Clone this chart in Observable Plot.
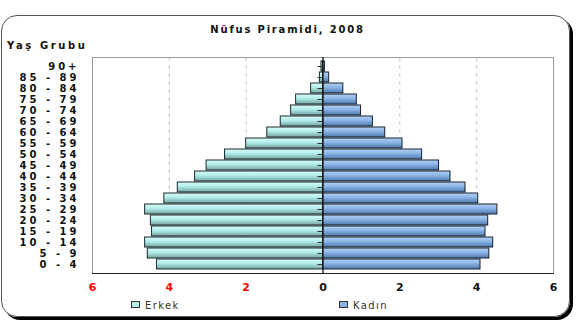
<!DOCTYPE html>
<html>
<head>
<meta charset="utf-8">
<script src="https://cdn.jsdelivr.net/npm/d3@7"></script>
<script src="https://cdn.jsdelivr.net/npm/@observablehq/plot@0.6"></script>
<style>
  html, body { margin: 0; padding: 0; background: #fff; }
  #wrap { position: relative; width: 579px; height: 324px; overflow: hidden; font-family: "DejaVu Sans", sans-serif; }
  #box { position: absolute; left: 1px; top: 15px; width: 567px; height: 300px; border: 1px solid #555; border-radius: 16px; box-shadow: 3px 3px 0 #000; }
  #chart { position: absolute; left: 0; top: 0; }
  #title { position: absolute; left: 0; width: 575px; top: 24px; text-align: center; font-weight: bold; font-size: 10px; letter-spacing: 1.8px; color: #111; }
  #ylab { position: absolute; left: 7px; top: 40px; font-weight: bold; font-size: 10px; letter-spacing: 2.6px; color: #111; }
  .leg { position: absolute; top: 300px; font-size: 10px; letter-spacing: 1.4px; color: #333; }
  .sw { display: inline-block; width: 7px; height: 5px; border: 1px solid #333; margin-right: 5px; vertical-align: 1px; }
  g[aria-label="y-axis tick label"] text { letter-spacing: 3px; }
  g[aria-label="x-axis tick label"] text { letter-spacing: 0px; }
</style>
</head>
<body>
<div id="wrap">
  <div id="box"></div>
  <div id="chart"></div>
  <div id="title">Nüfus Piramidi, 2008</div>
  <div id="ylab">Yaş Grubu</div>
  <div class="leg" style="left:131px"><span class="sw" style="background:#b4ecea"></span>Erkek</div>
  <div class="leg" style="left:339px"><span class="sw" style="background:#8ab3e6"></span>Kadın</div>
</div>
<script>
const ageGroups = ["0 - 4","5 - 9","10 - 14","15 - 19","20 - 24","25 - 29","30 - 34","35 - 39","40 - 44","45 - 49","50 - 54","55 - 59","60 - 64","65 - 69","70 - 74","75 - 79","80 - 84","85 - 89","90+"];
const male   = [4.32, 4.56, 4.63, 4.45, 4.48, 4.63, 4.13, 3.78, 3.33, 3.03, 2.55, 2.00, 1.45, 1.10, 0.83, 0.70, 0.31, 0.08, 0.04];
const female = [4.10, 4.33, 4.43, 4.23, 4.30, 4.54, 4.04, 3.71, 3.32, 3.02, 2.58, 2.07, 1.62, 1.30, 0.99, 0.88, 0.53, 0.16, 0.05];
const leftTicks = [-6, -4, -2];
const rightTicks = [0, 2, 4, 6];
const gridTicks = [-4, -2, 2, 4];

const rows = ageGroups.map((a, i) => ({age: a, male: male[i], female: female[i]}));

const chart = Plot.plot({
  width: 579,
  height: 324,
  marginLeft: 92,
  marginRight: 26,
  marginTop: 57,
  marginBottom: 51,
  style: {fontFamily: "DejaVu Sans, sans-serif", background: "transparent", color: "#111"},
  x: {domain: [-6, 6], label: null},
  y: {domain: ageGroups.slice().reverse(), padding: 0.08, label: null},
  marks: [
    Plot.ruleX(gridTicks, {stroke: "#b4cdcd", strokeDasharray: "4,4"}),
    Plot.frame({stroke: "#9a9a9a"}),
    Plot.barX(rows, {y: "age", x1: () => 0, x2: d => -d.male, fill: "url(#gradM)", stroke: "#1e2a2a", strokeWidth: 1}),
    Plot.barX(rows, {y: "age", x1: () => 0, x2: "female", fill: "url(#gradF)", stroke: "#1a2230", strokeWidth: 1}),
    Plot.ruleY(ageGroups, {y: d => d, x1: () => -0.13, x2: () => 0, stroke: "#333"}),
    Plot.ruleX([0], {stroke: "#111", strokeWidth: 1.3}),
    Plot.frame({anchor: "bottom", stroke: "#222"}),
    Plot.axisY({tickSize: 0, tickPadding: 13, fontWeight: "bold", fontSize: 10, fill: "#111"}),
    Plot.axisX(leftTicks, {tickSize: 0, tickPadding: 10, tickFormat: d => Math.abs(d), fill: "#ff0000", fontWeight: "bold", fontSize: 11}),
    Plot.axisX(rightTicks, {tickSize: 0, tickPadding: 10, tickFormat: d => Math.abs(d), fill: "#111", fontWeight: "bold", fontSize: 11})
  ]
});

const defs = d3.select(chart).insert("defs", ":first-child");
function grad(id, stops) {
  const g = defs.append("linearGradient").attr("id", id).attr("x1", 0).attr("y1", 0).attr("x2", 0).attr("y2", 1);
  stops.forEach(([o, c]) => g.append("stop").attr("offset", o).attr("stop-color", c));
}
grad("gradM", [["0%", "#d6fcfa"], ["45%", "#b2ecea"], ["100%", "#72a2a2"]]);
grad("gradF", [["0%", "#b2d2f6"], ["45%", "#8ab3e6"], ["100%", "#4e78aa"]]);

document.getElementById("chart").appendChild(chart);
</script>
</body>
</html>
